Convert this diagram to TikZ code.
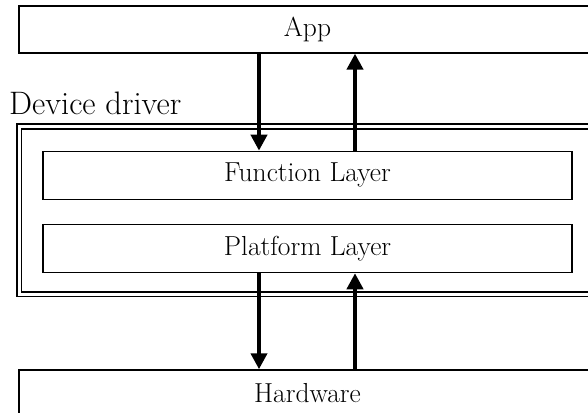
\documentclass[tikz,border=0pt]{standalone}
\usepackage{fontspec}
\usepackage{tikz}
\usetikzlibrary{arrows.meta,positioning}

\begin{document}
\begin{tikzpicture}[
  x=1pt, y=-1pt,
  node distance=24pt,
  layer/.style={rectangle, draw, line width=1.3pt, minimum width=577pt, minimum height=47pt, inner sep=0pt, font=\fontsize{27.5}{33}\selectfont},
  inlayer/.style={layer, minimum width=529pt, minimum height=48pt},
  drvbox/.style={rectangle, draw, line width=1.9pt, double, double distance=3pt, minimum width=577pt, minimum height=167.5pt, inner sep=0pt},
  arr/.style={-{Triangle[width=16pt,length=16pt]}, line width=4.5pt}
]
\useasboundingbox (0,0) rectangle (588,412);
\node[layer] (app) at (307.5,29.5) {App};
\node[drvbox] (drv) at (307.5,210.25) {};
\node[anchor=base west, inner sep=0pt, font=\fontsize{32.5}{39}\selectfont] (drvlbl) at (9,114) {Device driver};
\node[inlayer, below=97pt of app] (func) {Function Layer};
\node[inlayer, below=of func] (plat) {Platform Layer};
\node[layer, below=96pt of plat, minimum height=80pt, anchor=north] (hw) {};
\node[font=\fontsize{27.5}{33}\selectfont, anchor=base] (hwtxt) at (307.5,402) {Hardware};

\draw[arr] ([xshift=-48.5pt]app.south)  -- ([xshift=-48.5pt]func.north);
\draw[arr] ([xshift=47.5pt]func.north)  -- ([xshift=47.5pt]app.south);
\draw[arr] ([xshift=-48.5pt]plat.south) -- ([xshift=-48.5pt]hw.north);
\draw[arr] ([xshift=47.5pt]hw.north)    -- ([xshift=47.5pt]plat.south);
\end{tikzpicture}
\end{document}
